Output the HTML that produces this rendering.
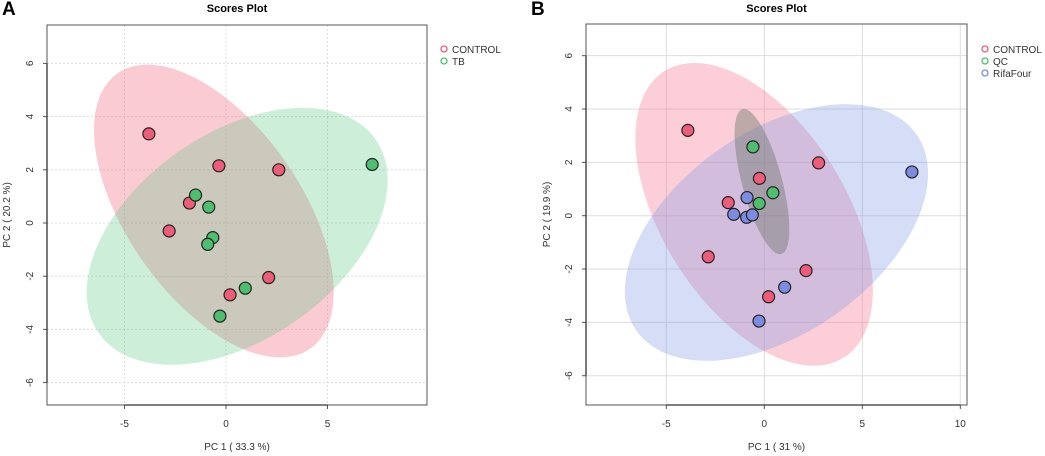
<!DOCTYPE html>
<html><head><meta charset="utf-8"><style>
body{margin:0;background:#fff;}
svg{display:block;font-family:"Liberation Sans",sans-serif;}
</style></head><body>
<svg id="c" width="1045" height="456"></svg>
<script>
const NS='http://www.w3.org/2000/svg';
const svg=document.getElementById('c');
// ---- Panel A data ----
const aControlX=[-3.8,-0.35,2.6,-1.8,-2.8,2.1,0.2];
const aControlY=[3.35,2.15,2.0,0.75,-0.3,-2.05,-2.7];
const aTbX=[7.2,-1.5,-0.85,-0.65,-0.9,0.95,-0.3];
const aTbY=[2.2,1.05,0.6,-0.55,-0.8,-2.45,-3.5];
const aXTicks=[-5,0,5];
const aYTicks=[-6,-4,-2,0,2,4,6];
const aLegend=['CONTROL','TB'];
// ---- Panel B data ----
const bControlX=[-3.9,2.77,-0.25,-1.84,-2.86,2.13,0.22];
const bControlY=[3.2,1.98,1.4,0.49,-1.54,-2.06,-3.04];
const bQcX=[-0.58,0.44,-0.26];
const bQcY=[2.58,0.86,0.46];
const bRifaX=[7.53,-0.88,-1.56,-0.9,-0.61,1.04,-0.27];
const bRifaY=[1.64,0.68,0.05,-0.06,0.03,-2.68,-3.95];
const bXTicks=[-5,0,5,10];
const bYTicks=[-6,-4,-2,0,2,4,6];
const bLegend=['CONTROL','QC','RifaFour'];

function el(tag,attrs,parent){const e=document.createElementNS(NS,tag);for(const k in attrs)e.setAttribute(k,attrs[k]);(parent||svg).appendChild(e);return e;}
function txt(s,attrs,parent){const e=el('text',attrs,parent);e.textContent=s;return e;}

function panel(o){
  const g=el('g',{});
  
  
  const sx=v=>o.x0+v*o.kx, sy=v=>o.y0-v*o.ky;
  const t=txt(o.letter,{x:o.letterX,y:15,'font-size':19,'font-weight':'bold'},g);
  
  const ti=txt('Scores Plot',{x:(o.L+o.R)/2,y:12,'font-size':11,'font-weight':'bold','text-anchor':'middle'},g);
  
  // grid
  o.xt.forEach(v=>{const l=el('line',{x1:sx(v),x2:sx(v),y1:o.T,y2:o.B,stroke:'#ddd','stroke-dasharray':o.dash},g);});
  o.yt.forEach(v=>{const l=el('line',{x1:o.L,x2:o.R,y1:sy(v),y2:sy(v),stroke:'#ddd','stroke-dasharray':o.dash},g);});
  // ellipses
  o.ell.forEach(e=>{const c=el('ellipse',{cx:0,cy:0,rx:e.a,ry:e.b,fill:e.fill,'fill-opacity':e.op,transform:`translate(${sx(e.cx)},${sy(e.cy)}) rotate(${e.rot})`},g);});
  // points
  o.series.forEach(s=>{s.x.forEach((v,i)=>{const c=el('circle',{cx:sx(v),cy:sy(s.y[i]),r:6,fill:s.col,stroke:'#222','stroke-width':1.2},g);});});
  // box
  const bx=el('rect',{x:o.L,y:o.T,width:o.R-o.L,height:o.B-o.T,fill:'none',stroke:'#555','stroke-width':1},g);
  
  // ticks
  o.xt.forEach(v=>{el('line',{x1:sx(v),x2:sx(v),y1:o.B,y2:o.B+4,stroke:'#555'},g);const l=txt(String(v),{x:sx(v),y:o.B+22,'font-size':10,'text-anchor':'middle',fill:'#333'},g);});
  el('line',{x1:sx(o.xt[0]),x2:sx(o.xt[o.xt.length-1]),y1:o.B,y2:o.B,stroke:'#333','stroke-width':1.3},g);
  o.yt.forEach(v=>{el('line',{x1:o.L-4,x2:o.L,y1:sy(v),y2:sy(v),stroke:'#555'},g);const l=txt(String(v),{x:0,y:0,'font-size':10,'text-anchor':'middle',fill:'#333',transform:`translate(${o.L-14},${sy(v)}) rotate(-90)`},g);});
  el('line',{x1:o.L,x2:o.L,y1:sy(o.yt[0]),y2:sy(o.yt[o.yt.length-1]),stroke:'#333','stroke-width':1.3},g);
  const xl=txt(o.xlab,{x:(o.L+o.R)/2,y:450,'font-size':10,'text-anchor':'middle',fill:'#333'},g);
  
  const yl=txt(o.ylab,{x:0,y:0,'font-size':10,'text-anchor':'middle',fill:'#333',transform:`translate(${o.ylx},${(o.T+o.B)/2}) rotate(-90)`},g);
  
  // legend
  o.legend.forEach((s,i)=>{const lg=el('g',{},g);
    el('circle',{cx:o.legX,cy:49+i*12,r:3,fill:'none',stroke:o.series[i].col,'stroke-width':1.3},lg);
    txt(s,{x:o.legX+8,y:53+i*12,'font-size':10,fill:'#333'},lg);});
}
const pink='#EE5C7A',green='#4DBF6F',blue='#7C8CE2';
panel({name:'panel-a',letter:'A',letterX:2,L:47,R:427,T:25,B:405,x0:226,kx:20.3,y0:223,ky:26.6,dash:'2,2',
  xt:aXTicks,yt:aYTicks,xlab:'PC 1 ( 33.3 %)',ylab:'PC 2 ( 20.2 %)',ylx:10,legX:444,legend:aLegend,
  ell:[{name:'control-ellipse',cx:-0.6,cy:0.45,a:168,b:87,rot:55,fill:'#F5768F',op:0.38},
       {name:'tb-ellipse',cx:0.55,cy:-0.5,a:169,b:103,rot:-35,fill:'#4CC77A',op:0.28}],
  series:[{x:aControlX,y:aControlY,col:pink,pname:'control-point'},{x:aTbX,y:aTbY,col:green,pname:'tb-point'}]});
panel({name:'panel-b',letter:'B',letterX:531,L:586,R:967,T:24,B:405,x0:764.3,kx:19.6,y0:215.7,ky:26.67,dash:'none',
  xt:bXTicks,yt:bYTicks,xlab:'PC 1 ( 31 %)',ylab:'PC 2 ( 19.9 %)',ylx:550,legX:985,legend:bLegend,
  ell:[{name:'control-ellipse',cx:-0.52,cy:0.05,a:169,b:92,rot:58,fill:'#F5768F',op:0.35},
       {name:'rifafour-ellipse',cx:0.62,cy:-0.63,a:171,b:101,rot:-35,fill:'#7F97E6',op:0.33},
       {name:'qc-ellipse',cx:-0.12,cy:1.28,a:75,b:20,rot:75,fill:'#6f7a6f',op:0.45}],
  series:[{x:bControlX,y:bControlY,col:pink,pname:'control-point'},{x:bQcX,y:bQcY,col:green,pname:'qc-point'},{x:bRifaX,y:bRifaY,col:blue,pname:'rifafour-point'}]});
</script>
</body></html>
